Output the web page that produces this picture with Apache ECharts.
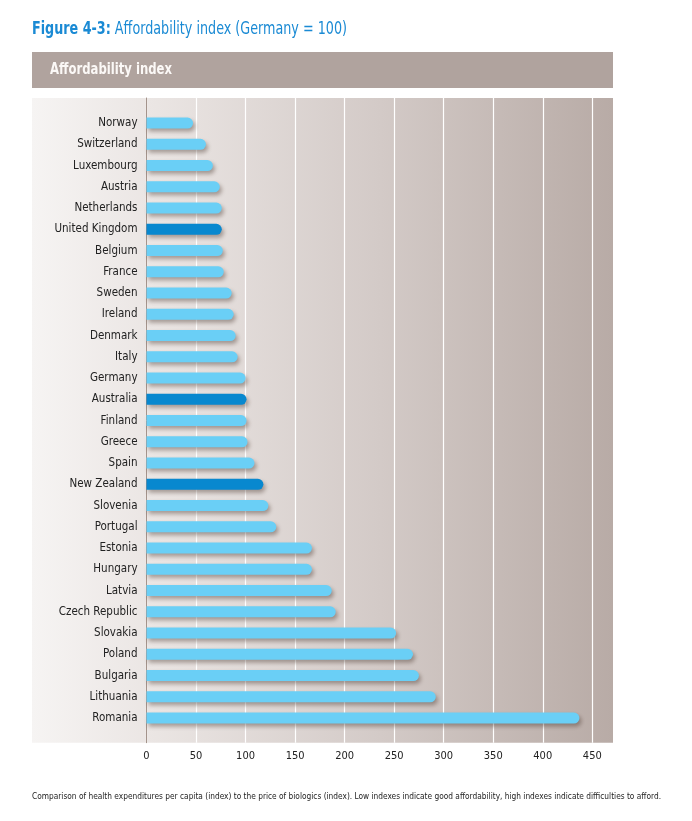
<!DOCTYPE html>
<html>
<head>
<meta charset="utf-8">
<script src="https://cdn.jsdelivr.net/npm/echarts@6/dist/echarts.min.js"></script>
<style>
html,body{margin:0;padding:0;background:#fff;}
#chart{width:692px;height:821px;}
</style>
</head>
<body>
<div id="chart"></div>
<script>
const countries = ['Norway','Switzerland','Luxembourg','Austria','Netherlands','United Kingdom','Belgium','France','Sweden','Ireland','Denmark','Italy','Germany','Australia','Finland','Greece','Spain','New Zealand','Slovenia','Portugal','Estonia','Hungary','Latvia','Czech Republic','Slovakia','Poland','Bulgaria','Lithuania','Romania'];
const values = [47,60,67,74,76,76,77,78,86,88,90,92,100,101,101,102,109,118,123,131,167,167,187,191,252,269,275,292,437];
const highlighted = ['United Kingdom','Australia','New Zealand'];
const xTicks = [0,50,100,150,200,250,300,350,400,450];
const titleBold = 'Figure 4-3:';
const titleRest = ' Affordability index (Germany = 100)';
const headerText = 'Affordability index';
const footnote = 'Comparison of health expenditures per capita (index) to the price of biologics (index). Low indexes indicate good affordability, high indexes indicate difficulties to afford.';

const FONT = "'Liberation Sans Narrow','DejaVu Sans Condensed',sans-serif";
const LIGHT = '#6acff6';
const DARK = '#0888cf';

const ctx = document.createElement('canvas').getContext('2d');
function measure(text, font){ ctx.font = font; return ctx.measureText(text).width; }
const titleFontB = 'bold 18px ' + FONT, titleFontN = '18px ' + FONT;
const titleW = measure(titleBold, titleFontB) + measure(titleRest, titleFontN);
const titleScale = 315 / titleW;
const headFont = 'bold 15px ' + FONT;
const headScale = 122 / measure(headerText, headFont);
const footFont = '9.5px ' + FONT;
const footScale = 629 / measure(footnote, footFont);

const chart = echarts.init(document.getElementById('chart'), null, {renderer:'canvas'});

const plotLeft = 146.5, plotRight = 692 - 592.3;
const option = {
  animation: false,
  textStyle: {fontFamily: FONT},
  graphic: [
    {type:'rect', z:-10, shape:{x:32,y:98,width:581,height:644.7},
     style:{fill:new echarts.graphic.LinearGradient(0,0,1,0,[
       {offset:0,color:'#f6f4f3'},{offset:0.2,color:'#ebe6e4'},{offset:0.6,color:'#d3cac7'},{offset:1,color:'#b8aba6'}])}},
    {type:'rect', z:-10, shape:{x:32,y:52,width:581,height:36}, style:{fill:'#b0a39e'}},
    {type:'text', x:50, y:70.5, scaleX:headScale, originX:0,
     style:{text:headerText, fill:'#fbf8f6', font:headFont, verticalAlign:'middle'}},
    {type:'text', x:32, y:29, scaleX:titleScale, originX:0, style:{
      text:'{b|'+titleBold+'}{n|'+titleRest+'}', verticalAlign:'middle',
      rich:{b:{fontFamily:FONT,fontWeight:'bold',fontSize:18,fill:'#1a8ad4',color:'#1a8ad4'},
            n:{fontFamily:FONT,fontSize:18,fill:'#1a8ad4',color:'#1a8ad4'}}}},
    {type:'text', x:32, y:797, scaleX:footScale, originX:0, style:{
      text:footnote, fill:'#222', font:footFont, verticalAlign:'middle'}}
  ],
  grid: [
    {left:plotLeft, right:plotRight, top:112.4, height:616.25},
    {left:plotLeft, right:plotRight, top:98, bottom:821-742.7}
  ],
  xAxis: [
    {gridIndex:0, type:'value', min:xTicks[0], max:xTicks[xTicks.length-1], interval:50,
     axisLabel:{show:false}, axisLine:{show:false}, axisTick:{show:false}, splitLine:{show:false}},
    {gridIndex:1, type:'value', min:xTicks[0], max:xTicks[xTicks.length-1], interval:50,
     axisLine:{show:false}, axisTick:{show:false},
     axisLabel:{color:'#222', fontSize:11, fontFamily:FONT, margin:8},
     splitLine:{show:true, lineStyle:{color:'#ffffff', width:1.2}}}
  ],
  yAxis: [
    {gridIndex:0, type:'category', data:countries, inverse:true,
     axisLine:{show:false}, axisTick:{show:false},
     axisLabel:{color:'#222', fontSize:11.5, fontFamily:FONT, margin:9}},
    {gridIndex:1, type:'value', min:0, max:1, axisLabel:{show:false}, splitLine:{show:false},
     axisTick:{show:false}, axisLine:{show:true, lineStyle:{color:'#a3938b', width:1}}}
  ],
  series: [{
    type:'bar', xAxisIndex:0, yAxisIndex:0, barWidth:11,
    data: values.map((v,i)=>({value:v, itemStyle:{color: highlighted.includes(countries[i]) ? DARK : LIGHT}})),
    itemStyle:{borderRadius:[0,6,6,0], shadowBlur:4, shadowOffsetX:2, shadowOffsetY:3, shadowColor:'rgba(60,40,30,0.4)'}
  }]
};
chart.setOption(option);
</script>
</body>
</html>
